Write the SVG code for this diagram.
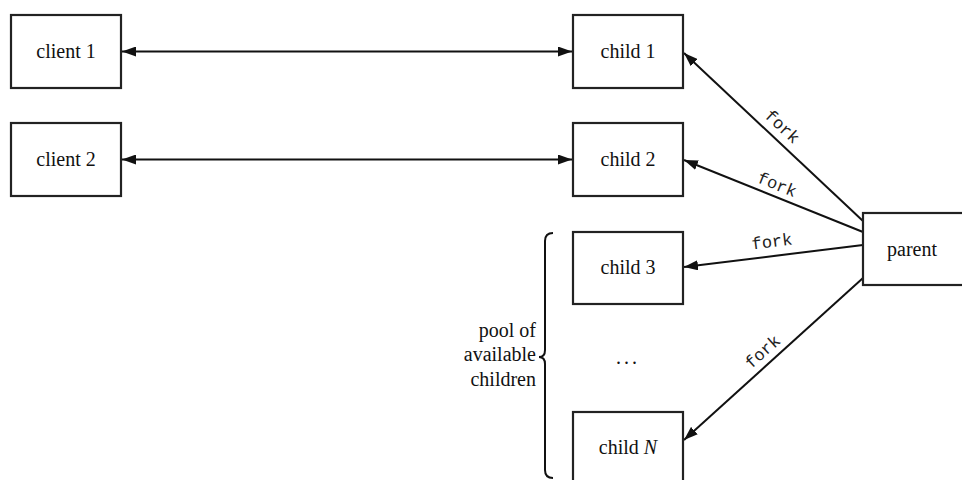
<svg xmlns="http://www.w3.org/2000/svg" width="962" height="480" viewBox="0 0 962 480">
<style>
.box{fill:#fff;stroke:#222;stroke-width:2.2}
.lbl{font-family:"Liberation Serif","Times New Roman",serif;font-size:20px;fill:#111;text-anchor:middle}
.side{font-family:"Liberation Serif","Times New Roman",serif;font-size:20px;fill:#111;text-anchor:end}
.fork{font-family:"Liberation Mono","Courier New",monospace;font-size:17px;fill:#222;text-anchor:middle}
.conn{stroke:#111;stroke-width:2;fill:none}
</style>
<defs>
<marker id="ah" viewBox="0 0 14 10" refX="14" refY="5" markerWidth="14" markerHeight="10" markerUnits="userSpaceOnUse" orient="auto-start-reverse">
<path d="M0,0 L14,5 L0,10 z" fill="#111"/>
</marker>
</defs>
<rect width="962" height="480" fill="#fff"/>
<g id="connectors">
<line class="conn" x1="122" y1="51.5" x2="572" y2="51.5" marker-start="url(#ah)" marker-end="url(#ah)"/>
<line class="conn" x1="122" y1="159.5" x2="572" y2="159.5" marker-start="url(#ah)" marker-end="url(#ah)"/>
<line class="conn" x1="863" y1="221" x2="684" y2="53" marker-end="url(#ah)"/>
<line class="conn" x1="863" y1="232" x2="684" y2="160" marker-end="url(#ah)"/>
<line class="conn" x1="863" y1="245" x2="684" y2="267" marker-end="url(#ah)"/>
<line class="conn" x1="863" y1="278" x2="684" y2="440" marker-end="url(#ah)"/>
<text class="fork" transform="translate(782,127) rotate(43)" y="5">fork</text>
<text class="fork" transform="translate(777,185) rotate(22)" y="5">fork</text>
<text class="fork" transform="translate(772,242) rotate(-7)" y="5">fork</text>
<text class="fork" transform="translate(763,352) rotate(-42)" y="5">fork</text>
</g>
<g id="client1"><rect class="box" x="11" y="15" width="110" height="73"/><text class="lbl" x="66" y="58">client 1</text></g>
<g id="client2"><rect class="box" x="11" y="123" width="110" height="73"/><text class="lbl" x="66" y="166">client 2</text></g>
<g id="child1"><rect class="box" x="573" y="15" width="110" height="73"/><text class="lbl" x="628" y="58">child 1</text></g>
<g id="child2"><rect class="box" x="573" y="123" width="110" height="73"/><text class="lbl" x="628" y="166">child 2</text></g>
<g id="child3"><rect class="box" x="573" y="232" width="110" height="72"/><text class="lbl" x="628" y="274">child 3</text></g>
<g id="childN"><rect class="box" x="573" y="412" width="110" height="80"/><text class="lbl" x="628" y="454">child <tspan font-style="italic">N</tspan></text></g>
<g id="parent"><rect class="box" x="863" y="213" width="110" height="72"/><text class="lbl" x="912" y="256">parent</text></g>
<g id="ellipsis"><text class="lbl" x="628" y="364" letter-spacing="3">...</text></g>
<g id="pool">
<path class="conn" stroke-width="1.6" d="M553,233 Q545,233 545,241 L545,350 Q545,357 539,357 Q545,357 545,364 L545,470 Q545,478 553,478"/>
<text class="side" x="536" y="337">pool of</text>
<text class="side" x="536" y="361">available</text>
<text class="side" x="536" y="386">children</text>
</g>
</svg>
